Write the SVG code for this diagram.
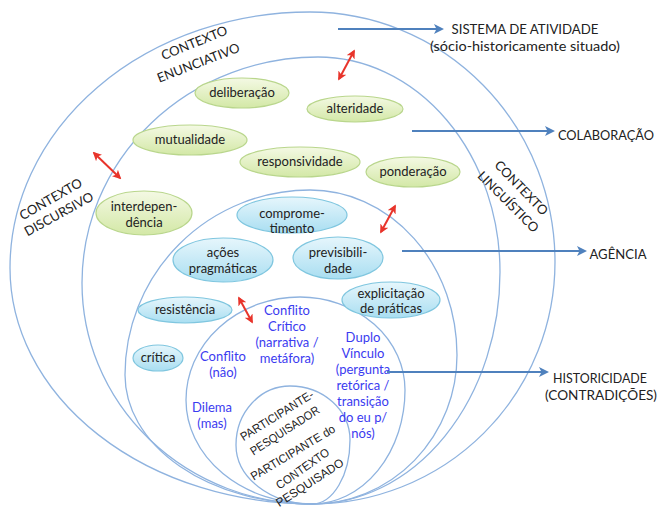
<svg xmlns="http://www.w3.org/2000/svg" width="661" height="510" viewBox="0 0 661 510">
<defs>
<linearGradient id="gG" x1="0" y1="0" x2="0" y2="1"><stop offset="0" stop-color="#f4f9e4"/><stop offset="1" stop-color="#d3e8a6"/></linearGradient>
<linearGradient id="gB" x1="0" y1="0" x2="0" y2="1"><stop offset="0" stop-color="#e6f6fc"/><stop offset="1" stop-color="#a9def1"/></linearGradient>
<marker id="ab" viewBox="0 0 10 10" refX="8" refY="5" markerWidth="5" markerHeight="5" orient="auto"><path d="M0,0 L10,5 L0,10 L2.5,5 Z" fill="#4f81bd"/></marker>
<marker id="ar" viewBox="0 0 10 10" refX="8" refY="5" markerWidth="4.5" markerHeight="4.5" orient="auto-start-reverse"><path d="M0,0 L10,5 L0,10 L2.5,5 Z" fill="#e8342b"/></marker>
</defs>
<style>
.ov{fill:none;stroke:#8fb3df;stroke-width:1.3}
.g{fill:url(#gG);stroke:#b9d68c;stroke-width:1.2}
.b{fill:url(#gB);stroke:#7fc6df;stroke-width:1.2}
.t{font-family:Lato,"Open Sans",sans-serif;font-size:13px;fill:#222;text-anchor:middle}
.bl{font-family:Lato,"Open Sans",sans-serif;font-size:13px;fill:#3b3bf0;text-anchor:middle}
.L{font-family:Lato,"Open Sans",sans-serif;font-size:14px;fill:#222;text-anchor:middle}
.p{font-family:"Liberation Sans",Arial,sans-serif;font-size:12px;fill:#222;text-anchor:middle}
.arw{stroke:#4f81bd;stroke-width:2;fill:none;marker-end:url(#ab)}
.red{stroke:#e8342b;stroke-width:2;fill:none;marker-start:url(#ar);marker-end:url(#ar)}
</style>

<g id="ovals">
<path id="oval1" class="ov" d="M312,504 A302 236 0 0 1 10 268 A300 256 0 0 1 310 12 A245 250 0 0 1 555 262 A243 242 0 0 1 312 504 Z"/>
<path id="oval2" class="ov" d="M312,504 A230 221 0 0 1 82 283 A236 226 0 0 1 318 57 A182 215 0 0 1 500 272 A188 232 0 0 1 312 504 Z"/>
<path id="oval3" class="ov" d="M312,504 A187 129 0 0 1 125 375 A185 185 0 0 1 310 190 A147 165 0 0 1 457 355 A145 149 0 0 1 312 504 Z"/>
<path id="oval4" class="ov" d="M312,504 A126 104 0 0 1 186 400 A114 103 0 0 1 300 297 A105 93 0 0 1 405 390 A93 114 0 0 1 312 504 Z"/>
<path id="oval5" class="ov" d="M312,504 A76 59 0 0 1 236 445 A54 59 0 0 1 290 386 A60 54 0 0 1 350 440 A38 64 0 0 1 312 504 Z"/>
</g>

<g id="contexts">
<text class="t" font-size="14" transform="translate(196,47) rotate(-22)">CONTEXTO</text>
<text class="t" font-size="14" transform="translate(200,67) rotate(-21)">ENUNCIATIVO</text>
<text class="t" font-size="14" transform="translate(53,203) rotate(-30)">CONTEXTO</text>
<text class="t" font-size="14" transform="translate(61,218) rotate(-29)">DISCURSIVO</text>
<text class="t" font-size="14" transform="translate(518,191) rotate(46)">CONTEXTO</text>
<text class="t" font-size="14" transform="translate(505,205) rotate(45)">LINGUÍSTICO</text>
</g>

<g id="n-deliberacao"><ellipse class="g" cx="242" cy="93" rx="47" ry="15"/><text class="t" x="242" y="97">deliberação</text></g>
<g id="n-alteridade"><ellipse class="g" cx="355" cy="109" rx="48" ry="13"/><text class="t" x="355" y="113">alteridade</text></g>
<g id="n-mutualidade"><ellipse class="g" cx="190" cy="140" rx="57" ry="15"/><text class="t" x="190" y="144">mutualidade</text></g>
<g id="n-responsividade"><ellipse class="g" cx="300" cy="162" rx="60" ry="15"/><text class="t" x="300" y="166">responsividade</text></g>
<g id="n-ponderacao"><ellipse class="g" cx="413" cy="172" rx="47" ry="15"/><text class="t" x="413" y="176">ponderação</text></g>
<g id="n-interdependencia"><ellipse class="g" cx="144" cy="213" rx="48" ry="22"/><text class="t" x="144" y="211">interdepen-</text><text class="t" x="144" y="227">dência</text></g>

<g id="n-comprometimento"><ellipse class="b" cx="292" cy="215" rx="55" ry="18"/><text class="t" x="292" y="218">comprome-</text><text class="t" x="292" y="233">timento</text></g>
<g id="n-acoes"><ellipse class="b" cx="223" cy="260" rx="50" ry="22"/><text class="t" x="223" y="257">ações</text><text class="t" x="223" y="273">pragmáticas</text></g>
<g id="n-previsibilidade"><ellipse class="b" cx="338" cy="258" rx="45" ry="21"/><text class="t" x="338" y="257">previsibili-</text><text class="t" x="338" y="273">dade</text></g>
<g id="n-explicitacao"><ellipse class="b" cx="391" cy="300" rx="49" ry="18"/><text class="t" x="391" y="298">explicitação</text><text class="t" x="391" y="313">de práticas</text></g>
<g id="n-resistencia"><ellipse class="b" cx="185" cy="310" rx="47" ry="13"/><text class="t" x="185" y="314">resistência</text></g>
<g id="n-critica"><ellipse class="b" cx="158" cy="358" rx="25" ry="13"/><text class="t" x="158" y="362">crítica</text></g>

<g id="n-contradicoes">
<text class="bl" x="287" y="315">Conflito</text>
<text class="bl" x="287" y="331">Crítico</text>
<text class="bl" x="287" y="347">(narrativa /</text>
<text class="bl" x="287" y="363">metáfora)</text>
<text class="bl" x="223" y="361">Conflito</text>
<text class="bl" x="223" y="377">(não)</text>
<text class="bl" x="212" y="412">Dilema</text>
<text class="bl" x="212" y="428">(mas)</text>
<text class="bl" x="363" y="342">Duplo</text>
<text class="bl" x="363" y="358">Vínculo</text>
<text class="bl" x="363" y="374">(pergunta</text>
<text class="bl" x="363" y="390">retórica /</text>
<text class="bl" x="363" y="406">transição</text>
<text class="bl" x="363" y="422">do eu p/</text>
<text class="bl" x="363" y="438">nós)</text>
</g>

<g id="n-participante">
<text class="p" transform="translate(279,419) rotate(-32)" textLength="84" lengthAdjust="spacingAndGlyphs">PARTICIPANTE-</text>
<text class="p" transform="translate(287,434) rotate(-33)" textLength="80" lengthAdjust="spacingAndGlyphs">PESQUISADOR</text>
<text class="p" transform="translate(295,456) rotate(-31)" textLength="96" lengthAdjust="spacingAndGlyphs">PARTICIPANTE do</text>
<text class="p" transform="translate(305,472) rotate(-35)" textLength="62" lengthAdjust="spacingAndGlyphs">CONTEXTO</text>
<text class="p" transform="translate(312,486) rotate(-33)" textLength="78" lengthAdjust="spacingAndGlyphs">PESQUISADO</text>
</g>

<g id="n-labels">
<text class="L" x="525" y="34" textLength="147" lengthAdjust="spacingAndGlyphs">SISTEMA DE ATIVIDADE</text>
<text class="L" x="525" y="51" textLength="190" lengthAdjust="spacingAndGlyphs">(sócio-historicamente situado)</text>
<text class="L" x="606" y="140" font-size="13" textLength="96" lengthAdjust="spacingAndGlyphs">COLABORAÇÃO</text>
<text class="L" x="618" y="259" textLength="57" lengthAdjust="spacingAndGlyphs">AGÊNCIA</text>
<text class="L" x="600" y="383" textLength="94" lengthAdjust="spacingAndGlyphs">HISTORICIDADE</text>
<text class="L" x="601" y="400" textLength="112" lengthAdjust="spacingAndGlyphs">(CONTRADIÇÕES)</text>
</g>

<g id="connectors">
<line class="arw" x1="338" y1="29" x2="442" y2="29"/>
<line class="arw" x1="412" y1="131" x2="553" y2="131"/>
<line class="arw" x1="402" y1="251" x2="585" y2="251"/>
<line class="arw" x1="387" y1="372" x2="547" y2="372"/>
<line class="red" x1="354" y1="51" x2="339" y2="79"/>
<line class="red" x1="94" y1="153" x2="120" y2="178"/>
<line class="red" x1="395" y1="206" x2="381" y2="232"/>
<line class="red" x1="239" y1="298" x2="252" y2="322"/>
</g>
</svg>
